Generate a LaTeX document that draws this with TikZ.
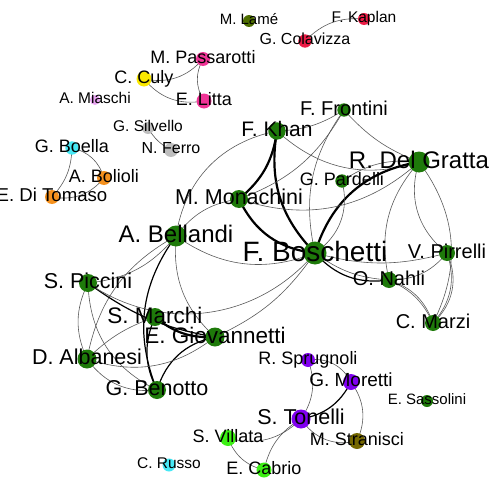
\documentclass[tikz,border=0pt]{standalone}
\usepackage{fontspec}
\setmainfont{Liberation Sans}

\definecolor{grn}{RGB}{30,122,10}
\definecolor{pnk}{RGB}{240,52,150}
\definecolor{ylw}{RGB}{250,232,0}
\definecolor{lil}{RGB}{232,165,240}
\definecolor{gry}{RGB}{190,190,190}
\definecolor{cyn}{RGB}{70,232,245}
\definecolor{org}{RGB}{245,145,30}
\definecolor{rd}{RGB}{236,28,70}
\definecolor{olv}{RGB}{78,110,0}
\definecolor{prp}{RGB}{128,0,240}
\definecolor{lim}{RGB}{60,240,20}
\definecolor{brn}{RGB}{118,105,0}

% id/x/y/radius/colour/font size/label
\def\people{bos/315/253/11.5/grn/28/F. Boschetti,
  dgr/419/162/10.5/grn/24/R. Del Gratta,
  bel/176/236/10.5/grn/24/A. Bellandi,
  mon/239/199/9/grn/21.5/M. Monachini,
  kha/277/131/8.7/grn/21/F. Khan,
  fro/344/110/6.7/grn/20/F. Frontini,
  par/342/181/6.7/grn/18/G. Pardelli,
  pir/447/253/8/grn/20/V. Pirrelli,
  nah/389/280/8/grn/20/O. Nahli,
  mar/433/323/8/grn/20/C. Marzi,
  pic/88/283/9/grn/21.5/S. Piccini,
  mch/155/317/9/grn/22.5/S. Marchi,
  gio/215/337/9.5/grn/22.5/E. Giovannetti,
  alb/87/359/9.5/grn/21.5/D. Albanesi,
  ben/157/390/9/grn/21.5/G. Benotto,
  ton/301/419/9.5/prp/21.5/S. Tonelli,
  spr/308/360/7/prp/18/R. Sprugnoli,
  mor/351/382/8/prp/19/G. Moretti,
  sas/427/401/6/grn/15/E. Sassolini,
  vil/228/438/8/lim/18/S. Villata,
  str/357/441/8/brn/18/M. Stranisci,
  rus/169/465/6.5/cyn/15.5/C. Russo,
  cab/264/470/7.5/lim/18/E. Cabrio,
  pas/203/59/7/pnk/18/M. Passarotti,
  cul/144/79/7.5/ylw/18/C. Culy,
  lit/204/101/7.5/pnk/18/E. Litta,
  mia/95/100/5/lil/15.5/A. Miaschi,
  sil/148/128/6/gry/15.5/G. Silvello,
  fer/171/150/7/gry/16/N. Ferro,
  boe/72/148/6.7/cyn/18/G. Boella,
  bol/104/178/7/org/18/A. Bolioli,
  dit/52/197/7/org/18.6/E. Di Tomaso,
  lam/249/21/6/olv/15/M. Lamé,
  kap/364/19/6/rd/15.5/F. Kaplan,
  col/305/41/6.7/rd/16/G. Colavizza}

\begin{document}
\begin{tikzpicture}[x=1pt, y=-1pt,
    tie/.style={draw=black!65, line width=0.6pt},
    strong/.style={draw=black, line width=1.2pt},
    heavy/.style={draw=black, line width=2.2pt},
    lbl/.style={anchor=base, inner sep=0pt, text=black}]

  \useasboundingbox (0,0) rectangle (493,479);
  \clip (0,0) rectangle (493,479);

  \foreach \id/\x/\y/\r/\c/\f/\t in \people
    \coordinate (\id) at (\x,\y);

  % small groups
  \draw[tie] (cul) to[bend right=30] (pas);
  \draw[tie] (cul) to[bend right=30] (lit);
  \draw[tie] (pas) to[bend right=30] (lit);
  \draw[tie] (sil) to[bend right=15] (fer);
  \draw[tie] (boe) to[bend left=30] (bol);
  \draw[tie] (boe) to[bend left=20] (dit);
  \draw[tie] (bol) to[bend left=30] (dit);
  \draw[tie] (col) to[bend left=25] (kap);

  % purple group
  \draw[tie] (spr) to[bend left=35] (mor);
  \draw[tie] (mor) to[bend left=30] (str);
  \draw[tie] (spr) to[bend left=27] (ton);
  \draw[strong] (mor) to[bend left=26] (ton);
  \draw[tie] (ton) to[bend right=35] (str);
  \draw[tie] (vil) to[bend right=30] (ton);
  \draw[tie] (ton) to[bend right=23] (cab);
  \draw[tie] (vil) to[bend right=27] (cab);

  % main group
  \draw[tie] (kha) to[bend right=15] (fro);
  \draw[tie] (kha) to[bend right=30] (dgr);
  \draw[heavy] (kha) to[bend left=21] (mon);
  \draw[heavy] (kha) to[bend right=27] (bos);
  \draw[heavy] (mon) to[bend right=29] (bos);
  \draw[heavy] (bos) to[bend left=32] (dgr);
  \draw[tie] (fro) to[bend right=13] (dgr);
  \draw[tie] (fro) to[bend right=24] (bos);
  \draw[tie] (mon) to[bend right=20] (fro);
  \draw[tie] (mon) to[bend right=30] (dgr);
  \draw[tie] (par) to[bend left=20] (dgr);
  \draw[tie] (par) to[bend left=35] (bos);
  \draw[tie] (dgr) to[bend right=35] (pir);
  \draw[tie] (dgr) to[bend left=32] (mar);
  \draw[tie] (dgr) to[bend right=27] (nah);
  \draw[tie] (pir) to[bend left=30] (mar);
  \draw[tie] (pir) to[bend left=36] (mar);
  \draw[tie] (nah) to[bend left=20] (mar);
  \draw[tie] (nah) to[bend left=26] (mar);
  \draw[tie] (nah) to[bend right=25] (pir);
  \draw[strong] (bos) to[bend right=28] (nah);
  \draw[tie] (bos) to[bend right=16] (nah);
  \draw[tie] (bos) to[bend right=15] (pir);
  \draw[tie] (bel) to[bend left=22] (mon);
  \draw[tie] (bel) to[bend right=28] (bos);
  \draw[tie] (bel) to[bend left=35] (kha);
  \draw[tie] (pic) to[bend right=22] (bel);
  \draw[tie] (bel) to[bend right=25] (alb);
  \draw[tie] (bel) to[bend right=26] (gio);
  \draw[strong] (bel) to[bend right=29] (ben);
  \draw[strong] (pic) to[bend right=13] (gio);
  \draw[heavy] (mch) to[bend right=21] (gio);
  \draw[tie] (pic) to[bend right=42] (bos);
  \draw[tie] (gio) to[bend right=15] (bos);
  \draw[tie] (pic) to[bend right=25] (alb);
  \draw[tie] (pic) to[bend right=31] (ben);
  \draw[tie] (mch) to[bend right=12] (alb);
  \draw[strong] (mch) to[bend right=25] (ben);
  \draw[strong] (gio) to[bend right=30] (ben);
  \draw[tie] (gio) to[bend left=28] (alb);
  \draw[tie] (alb) to[bend right=30] (ben);

  \foreach \id/\x/\y/\r/\c/\f/\t in \people
    \fill[\c] (\id) circle (\r);

  \foreach \id/\x/\y/\r/\c/\f/\t in \people
    \node[lbl, font=\fontsize{\f}{\f}\selectfont] (\id-lab)
      at (\x,{\y+0.358*\f-2}) {\t};

\end{tikzpicture}
\end{document}
